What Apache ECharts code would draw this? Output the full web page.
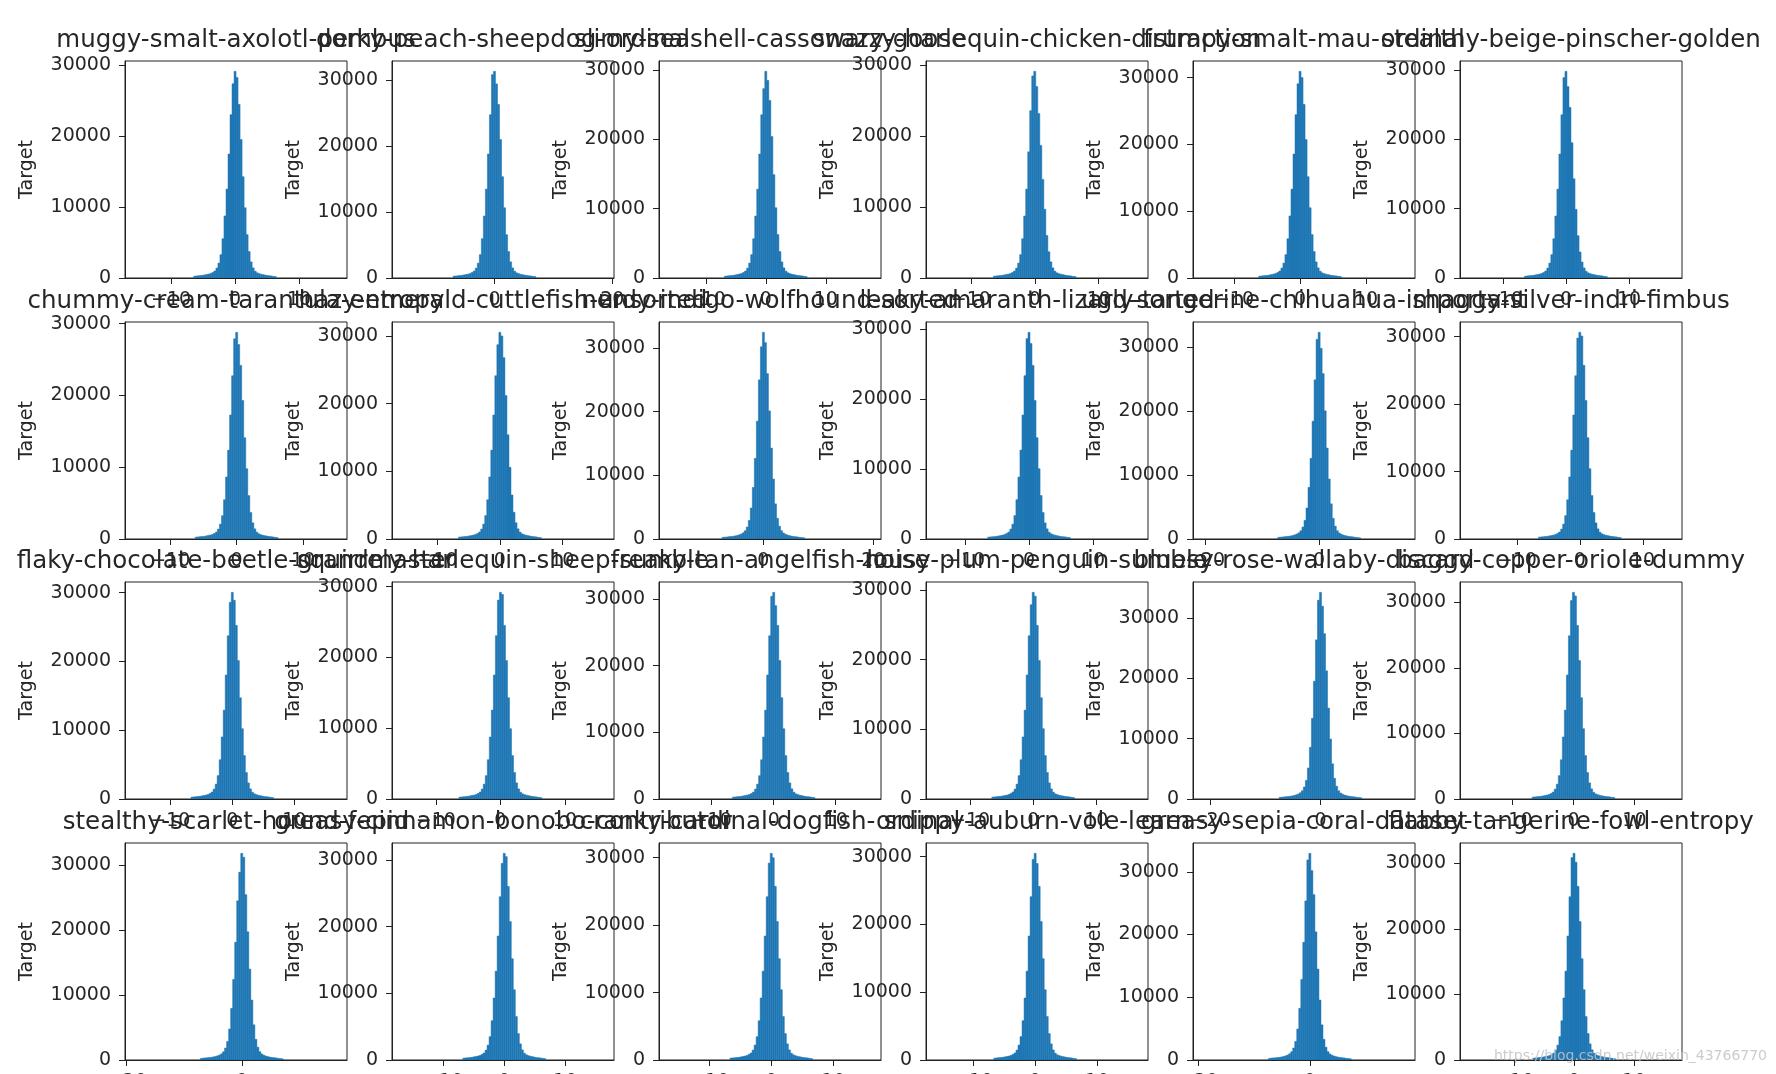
<!DOCTYPE html>
<html><head><meta charset="utf-8">
<script src="https://cdn.jsdelivr.net/npm/echarts@6/dist/echarts.min.js"></script>
<style>html,body{margin:0;padding:0;background:#fff}#c{width:1776px;height:1074px}</style>
</head><body><div id="c"></div>
<script>
// ---- data ----
const titles = [
  'muggy-smalt-axolotl-pembus','dorky-peach-sheepdog-ordinal','slimy-seashell-cassowary-goose','snazzy-harlequin-chicken-distraction','frumpy-smalt-mau-ordinal','stealthy-beige-pinscher-golden',
  'chummy-cream-tarantula-entropy','hazy-emerald-cuttlefish-unsorted','nerdy-indigo-wolfhound-sorted','leaky-amaranth-lizard-sorted','ugly-tangerine-chihuahua-important','shaggy-silver-indri-fimbus',
  'flaky-chocolate-beetle-grandmaster','squirrely-harlequin-sheep-sumble','freaky-tan-angelfish-noise','lousy-plum-penguin-sumble','bluesy-rose-wallaby-discard','baggy-copper-oriole-dummy',
  'stealthy-scarlet-hound-fepid','greasy-cinnamon-bonobo-contributor','cranky-cardinal-dogfish-ordinal','snippy-auburn-vole-learn','greasy-sepia-coral-dataset','flabby-tangerine-fowl-entropy'
];
// histogram counts: 41 bins each, centre bin (index 20) straddles 0
const h11 = [260,290,320,350,380,440,500,550,640,790,990,1400,2100,3290,5540,8750,12540,17490,23030,27400,29150,28280,24490,19530,14280,9910,6120,3730,2270,1430,960,730,610,530,470,410,350,320,290,230,200];
const h12 = [280,310,340,380,410,470,530,590,690,850,1060,1500,2250,3540,5950,9390,13460,18780,24730,30800,31300,29400,26290,20970,15340,10640,6570,4010,2440,1530,1030,780,660,560,500,440,380,340,310,250,220];
const h13 = [270,300,330,360,390,450,510,570,660,800,1010,1430,2150,3370,5660,8940,12810,17880,23540,27300,29800,28500,25600,20400,14900,10130,6260,3810,2320,1460,980,750,630,540,480,420,360,330,300,240,210];
const h14 = [260,290,320,350,380,440,500,550,640,790,990,1400,2100,3290,5540,8750,12540,17800,23600,28500,29150,27000,23200,18700,13900,9700,6000,3700,2270,1430,960,730,610,530,470,410,350,320,290,230,200];
const h15 = [280,310,340,370,400,460,530,590,680,840,1050,1490,2230,3500,5880,9290,13310,18570,24450,29090,30950,30020,26000,20740,15170,10520,6500,3960,2410,1520,1020,770,650,560,500,430,370,340,310,250,220];
const h16 = [270,300,330,360,390,450,510,570,660,800,1010,1430,2150,3370,5660,8940,12810,17880,23540,28900,29800,27600,24600,19500,14300,9900,6100,3750,2300,1450,980,750,630,540,480,420,360,330,300,240,210];
const h21 = [260,290,320,350,370,430,490,550,630,780,980,1380,2070,3250,5470,8640,12380,17280,22750,27900,28800,27100,24190,19300,14110,9790,6050,3690,2250,1410,950,720,600,520,460,400,350,320,290,230,200];
const h22 = [280,310,340,370,400,460,520,580,670,820,1040,1470,2200,3450,5800,9170,13140,18330,24130,28720,30550,30000,26800,21200,15400,10600,6500,3950,2400,1500,1010,760,640,550,490,430,370,340,310,240,210];
const h23 = [260,290,320,360,390,420,490,550,650,780,970,1300,1880,2920,4870,8110,12660,18500,24990,30180,32450,30830,25960,20120,14280,9410,5520,3250,2010,1300,940,750,620,520,450,390,360,320,260,230,190];
const h24 = [270,300,320,350,380,440,500,560,650,800,1000,1420,2120,3330,5610,8850,12690,17700,23310,28600,29500,27900,24780,19770,14460,10030,6200,3780,2300,1450,970,740,620,530,470,410,350,320,300,240,210];
const h25 = [260,290,320,360,390,420,480,550,650,780,970,1290,1870,2910,4850,8080,12600,18410,24870,31200,32300,29800,25840,20030,14210,9370,5490,3230,2000,1290,940,740,610,520,450,390,360,320,260,230,190];
const h26 = [280,310,340,370,400,460,520,580,670,830,1040,1470,2210,3460,5820,9200,13180,18390,24210,29800,30650,30100,25750,20540,15020,10420,6440,3920,2390,1500,1010,770,640,550,490,430,370,340,310,250,210];
const h31 = [270,300,330,360,390,450,510,570,660,810,1020,1440,2160,3400,5710,9020,12920,18030,23740,28600,30050,28900,25240,20130,14720,10220,6310,3850,2340,1470,990,750,630,540,480,420,360,330,300,240,210];
const h32 = [260,290,320,350,380,440,500,550,640,790,990,1400,2100,3300,5550,8760,12560,17520,23070,28100,29200,28900,24530,19560,14310,9930,6130,3740,2280,1430,960,730,610,530,470,410,350,320,290,230,200];
const h33 = [280,310,340,370,400,470,530,590,680,840,1050,1490,2230,3500,5890,9300,13330,18600,24490,30400,31000,29000,26040,20770,15190,10540,6510,3970,2420,1520,1020,780,650,560,500,430,370,340,310,250,220];
const h34 = [270,300,330,360,390,440,500,560,650,800,1010,1420,2130,3350,5630,8900,12750,17790,23420,27870,29650,29100,24910,19870,14530,10080,6230,3800,2310,1450,980,740,620,530,470,420,360,330,300,240,210];
const h35 = [270,310,340,380,410,450,510,580,690,820,1030,1370,1990,3090,5150,8580,13380,19550,26410,33000,34300,32000,27440,21270,15090,9950,5830,3430,2130,1370,990,790,650,550,480,410,380,340,270,240,210];
const h36 = [280,320,350,380,410,470,540,600,690,850,1070,1510,2270,3570,5990,9470,13570,18930,24920,30300,31550,31000,26500,21140,15460,10730,6630,4040,2460,1550,1040,790,660,570,500,440,380,350,320,250,220];
const h41 = [250,290,320,350,380,410,480,540,640,760,950,1270,1840,2860,4770,7950,12400,18130,24490,28900,31800,31200,25440,19720,13990,9220,5410,3180,1970,1270,920,730,600,510,450,380,350,320,250,220,190];
const h42 = [280,310,340,370,400,470,530,590,680,840,1050,1490,2230,3500,5890,9300,13330,18600,24490,29500,31000,30500,26040,20770,15190,10540,6510,3970,2420,1520,1020,780,650,560,500,430,370,340,310,250,220];
const h43 = [280,310,340,370,400,460,520,580,670,830,1040,1470,2210,3460,5820,9200,13180,18390,24210,29200,30650,30000,25750,20540,15020,10420,6440,3920,2390,1500,1010,770,640,550,490,430,370,340,310,250,210];
const h44 = [270,310,340,370,400,460,520,580,670,820,1040,1460,2200,3450,5800,9150,13120,18300,24100,29600,30500,29000,25620,20440,14950,10370,6410,3900,2380,1490,1010,760,640,550,490,430,370,340,310,240,210];
const h45 = [260,300,330,360,400,430,490,560,660,790,990,1320,1910,2970,4940,8240,12850,18780,25370,31900,32950,30200,26360,20430,14500,9560,5600,3300,2040,1320,960,760,630,530,460,400,360,330,260,230,200];
const h46 = [280,320,350,380,410,470,540,600,690,850,1070,1510,2270,3570,5990,9470,13570,18930,24920,30900,31550,30200,26500,21140,15460,10730,6630,4040,2460,1550,1040,790,660,570,500,440,380,350,320,250,220];
const counts = [h11,h12,h13,h14,h15,h16,h21,h22,h23,h24,h25,h26,h31,h32,h33,h34,h35,h36,h41,h42,h43,h44,h45,h46];
// bin widths (data units) per panel
const binW = [0.315,0.343,0.336,0.315,0.305,0.32, 0.304,0.324,0.367,0.315,0.354,0.32, 0.325,0.313,0.325,0.32,0.367,0.331, 0.351,0.331,0.325,0.325,0.361,0.336];
// x-axis extents per panel
const xMin = [-17.2,-17.4,-17.8,-17.0,-16.2,-16.8, -16.8,-17.3,-19.0,-16.1,-22.1,-19.0, -17.3,-16.8,-18.5,-17.0,-23.2,-18.6, -20.3,-18.4,-18.1,-17.6,-20.9,-19.0];
const xMax = [17.5,20.3,19.2,17.7,17.4,18.4, 16.6,18.3,21.4,18.6,16.8,16.2, 18.5,17.6,17.3,18.2,17.2,17.8, 18.3,18.0,17.7,18.2,18.8,18.0];
// x tick labels per panel
const T10 = [-10,0,10], T20a = [0,20], T20b = [-20,0];
const xTicks = [T10,T20a,T10,T10,T10,T10, T10,T10,T20a,T10,T20b,T10, T10,T10,T10,T10,T20b,T10, T20b,T10,T10,T10,T20b,T10];
const yTicks = [0,10000,20000,30000];
const yName = 'Target';
const watermark = 'https://blog.csdn.net/weixin_43766770';

// ---- layout ----
const FONT = 'DejaVu Sans';
const TXT = '#262626';
const gridLeft = [125,392,659,926,1193,1460];
const gridTop = [61,322,582,843];
const GW = 222, GH = 217;
const fmtX = v => String(v).replace('-', '\u2212');
const fmtY = v => String(Math.round(v));

const grid=[], xAxis=[], yAxis=[], series=[], graphic=[];
for (let k=0;k<24;k++){
  const r=Math.floor(k/6), c=k%6;
  grid.push({left:gridLeft[c], top:gridTop[r], width:GW, height:GH, containLabel:false, outerBoundsMode:'none',
    show:true, borderColor:'#222', borderWidth:1, backgroundColor:'transparent'});
  xAxis.push({gridIndex:k, type:'value', min:xMin[k], max:xMax[k],
    splitLine:{show:false},
    axisLine:{show:true,onZero:false,lineStyle:{color:'#222',width:1}},
    axisTick:{show:true,length:6,customValues:xTicks[k],lineStyle:{color:'#222',width:1}},
    axisLabel:{customValues:xTicks[k],fontSize:19,fontFamily:FONT,color:TXT,margin:13,formatter:fmtX}});
  const mx = Math.max(...counts[k]);
  yAxis.push({gridIndex:k, type:'value', min:0, max:mx*1.05,
    name:yName, nameLocation:'middle', nameGap:88, nameRotate:90,
    nameTextStyle:{fontSize:19,fontFamily:FONT,color:TXT},
    splitLine:{show:false},
    axisLine:{show:true,onZero:false,lineStyle:{color:'#222',width:1}},
    axisTick:{show:true,length:6,customValues:yTicks,lineStyle:{color:'#222',width:1}},
    axisLabel:{customValues:yTicks,fontSize:19,fontFamily:FONT,color:TXT,margin:14,formatter:fmtY}});
  const w = binW[k];
  const data = counts[k].map((v,i)=>[(i-20.5)*w,(i-19.5)*w,v]);
  series.push({type:'custom', xAxisIndex:k, yAxisIndex:k, data, encode:{x:[0,1],y:2}, clip:true, silent:true,
    renderItem:(params,api)=>{
      const p0=api.coord([api.value(0),api.value(2)]);
      const p1=api.coord([api.value(1),0]);
      return {type:'rect',shape:{x:p0[0],y:p0[1],width:p1[0]-p0[0],height:p1[1]-p0[1]},
        style:{fill:'#1f77b4',stroke:'#1f77b4',lineWidth:0.5}};
    }});
  graphic.push({type:'text', x:gridLeft[c]+GW/2, y:gridTop[r]-20, z:10,
    style:{text:titles[k], font:'24.5px "DejaVu Sans"', fill:TXT, textAlign:'center', textVerticalAlign:'middle'}});
}
graphic.push({type:'text', x:1494, y:1056, z:20,
  style:{text:watermark, font:'14px "DejaVu Sans"', fill:'rgba(195,195,195,0.85)', textAlign:'left', textVerticalAlign:'middle'}});

const chart = echarts.init(document.getElementById('c'), null, {renderer:'canvas'});
chart.setOption({animation:false, backgroundColor:'#fff', grid, xAxis, yAxis, series, graphic});
</script></body></html>
